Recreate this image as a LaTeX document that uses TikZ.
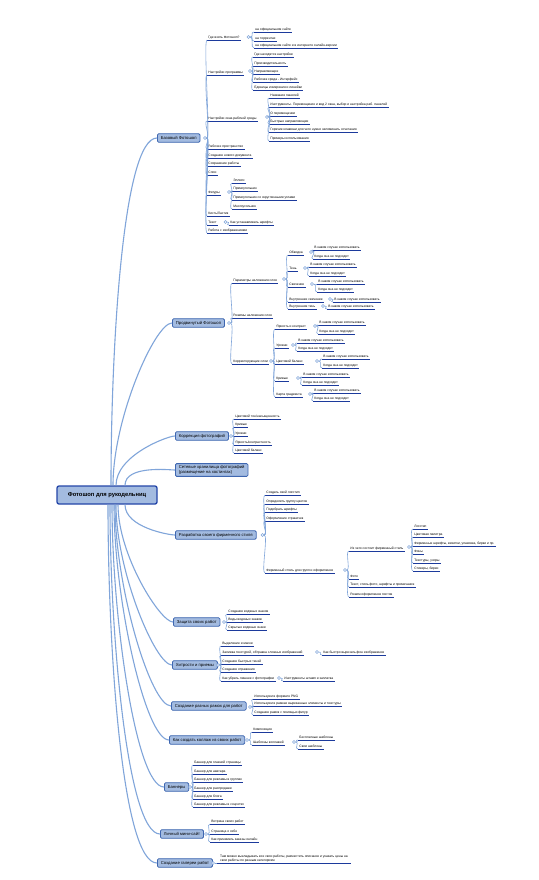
\documentclass[tikz,border=0pt]{standalone}
\usepackage{fontspec}
\setmainfont{Liberation Sans}
\definecolor{mmline}{RGB}{128,165,218}
\definecolor{mmunder}{RGB}{28,58,156}
\definecolor{mmfill}{RGB}{163,187,224}
\definecolor{mmedge}{RGB}{62,102,176}
\definecolor{mmrootedge}{RGB}{36,70,168}
\newcommand\mmleaf{\fontsize{3.3}{3.9}\selectfont}
\newcommand\mmtopic{\fontsize{4.2}{5.2}\selectfont}
\newcommand\mmroot{\fontsize{5.8}{7}\selectfont\bfseries}

\begin{document}
\begin{tikzpicture}[x=1pt,y=-1pt,
  underlined/.style={append after command={(\tikzlastnode.south west) edge[draw=mmunder,line width=0.9pt] (\tikzlastnode.south east)}},
  leaf/.style={underlined,anchor=south west,font=\mmleaf,inner xsep=1.2pt,inner ysep=0.8pt,text height=2.5pt,text depth=0.7pt},
  topicbox/.style={anchor=west,draw=mmedge,fill=mmfill,line width=0.8pt,rounded corners=1.3pt,font=\mmtopic,inner xsep=3.5pt,inner ysep=2.3pt},
  topic/.style={topicbox,text height=3.1pt,text depth=0.9pt},
  root/.style={draw=mmrootedge,fill=mmfill,line width=1.3pt,rounded corners=2pt,font=\mmroot,minimum width=100pt,minimum height=18pt},
  knob/.style={circle,draw=mmline,fill=white,line width=0.5pt,minimum size=3pt,inner sep=0pt},
  trunk/.style={draw=mmline,line width=1.1pt,in=180,in looseness=0.25},
  sub/.style={draw=mmline,line width=0.6pt,out=0,in=180,out distance=4pt,in distance=4pt}]
\fill[white] (0,0) rectangle (538,880);
\useasboundingbox (0,0) rectangle (538,880);

\node[root] (root) at (107,495) {Фотошоп для рукодельниц};

\node[topic] (b1) at (157,138) {Базовый Фотошоп};
\node[topic] (b2) at (172,323) {Продвинутый Фотошоп};
\node[topic] (b3) at (175,436) {Коррекция фотографий};
\node[topicbox,align=left,inner ysep=1.8pt] (b4) at (175,470) {Сетевые хранилища фотографий\\(размещение на хостингах)};
\node[topic] (b6) at (175,535) {Разработка своего фирменного стиля};
\node[topic] (b7) at (173,622) {Защита своих работ};
\node[topic] (b8) at (172,665) {Хитрости и приемы};
\node[topic] (b9) at (171,706) {Создание разных рамок для работ};
\node[topic] (b10) at (169,740) {Как создать коллаж из своих работ};
\node[topic] (b11) at (164,787) {Баннеры};
\node[topic] (b12) at (160,834) {Личный мини-сайт};
\node[topic] (b13) at (157,863) {Создание галереи работ};

\draw[trunk,out=90] ([xshift=4pt]root.north) to (b1.west);
\draw[trunk,out=90] ([xshift=6pt]root.north) to (b2.west);
\draw[trunk,out=90] ([xshift=9pt]root.north) to (b3.west);
\draw[trunk,out=90] ([xshift=18pt]root.north) to (b4.west);
\draw[trunk,out=-90] ([xshift=18pt]root.south) to (b6.west);
\draw[trunk,out=-90] ([xshift=11pt]root.south) to (b7.west);
\draw[trunk,out=-90] ([xshift=9pt]root.south) to (b8.west);
\draw[trunk,out=-90] ([xshift=8pt]root.south) to (b9.west);
\draw[trunk,out=-90] ([xshift=7pt]root.south) to (b10.west);
\draw[trunk,out=-90] ([xshift=5pt]root.south) to (b11.west);
\draw[trunk,out=-90] ([xshift=3pt]root.south) to (b12.west);
\draw[trunk,out=-90] ([xshift=1pt]root.south) to (b13.west);

% Базовый Фотошоп
\node[leaf] (a1) at (207,40) {Где взять Фотошоп?};
\node[leaf] (a1a) at (254,32) {на официальном сайте};
\node[leaf] (a1b) at (254,41) {на торрентах};
\node[leaf] (a1c) at (254,48) {на официальном сайте и в интернете онлайн-версии};
\node[leaf] (a2) at (207,75) {Настройки программы};
\node[leaf] (a2a) at (253,57) {Где находятся настройки};
\node[leaf] (a2b) at (253,66) {Производительность};
\node[leaf] (a2c) at (253,74) {Направляющие};
\node[leaf] (a2d) at (253,82) {Рабочая среда - Интерфейс};
\node[leaf] (a2e) at (253,90) {Единицы измерения и линейки};
\node[leaf] (a3) at (207,121) {Настройки окна рабочей среды};
\node[leaf] (a3a) at (269,98) {Названия панелей};
\node[leaf] (a3b) at (269,107) {Инструменты. Перемещение и вид 2 окна, выбор и настройка раб. панелей};
\node[leaf] (a3c) at (269,116) {О перемещении};
\node[leaf] (a3d) at (269,124) {Быстрые направляющие};
\node[leaf] (a3e) at (269,132) {Горячие клавиши для чего нужно запоминать сочетания};
\node[leaf] (a3f) at (269,141) {Примеры использования};
\node[leaf] (a4) at (207,149) {Рабочее пространство};
\node[leaf] (a5) at (207,158) {Создание нового документа};
\node[leaf] (a6) at (207,166) {Сохранение работы};
\node[leaf] (a7) at (207,175) {Слои};
\node[leaf] (a8) at (207,195) {Фигуры};
\node[leaf] (a8a) at (232,183) {Эллипс};
\node[leaf] (a8b) at (232,191) {Прямоугольник};
\node[leaf] (a8c) at (232,200) {Прямоугольник со скругленными углами};
\node[leaf] (a8d) at (232,209) {Многоугольник};
\node[leaf] (a9) at (207,216) {Кисть/Ластик};
\node[leaf] (a10) at (207,225) {Текст};
\node[leaf] (a10a) at (229,225) {Как устанавливать шрифты};
\node[leaf] (a11) at (207,233) {Работа с изображениями};

\node[knob] (b1k) at (205,138) {};
\node[knob] (a1k) at (248.5,37) {};
\node[knob] (a2k) at (250,71) {};
\node[knob] (a3k) at (267,117) {};
\node[knob] (a8k) at (229,192) {};
\node[knob] (a10k) at (225.5,222) {};
\foreach \c in {a1,a2,a3,a4,a5,a6,a7,a8,a9,a10,a11} \draw[sub] (b1k.east) to (\c.south west);
\foreach \c in {a1a,a1b,a1c} \draw[sub] (a1k.east) to (\c.south west);
\foreach \c in {a2a,a2b,a2c,a2d,a2e} \draw[sub] (a2k.east) to (\c.south west);
\foreach \c in {a3a,a3b,a3c,a3d,a3e,a3f} \draw[sub] (a3k.east) to (\c.south west);
\foreach \c in {a8a,a8b,a8c,a8d} \draw[sub] (a8k.east) to (\c.south west);
\draw[sub] (a10k.east) to (a10a.south west);

% Продвинутый Фотошоп
\node[leaf] (c1) at (232,283) {Параметры наложения слоя};
\node[leaf] (c1a) at (288,255) {Обводка};
\node[leaf] (c1a1) at (313,250) {В каком случае использовать};
\node[leaf] (c1a2) at (313,259) {Когда она не подходит};
\node[leaf] (c1b) at (288,271) {Тень};
\node[leaf] (c1b1) at (309,267) {В каком случае использовать};
\node[leaf] (c1b2) at (309,276) {Когда она не подходит};
\node[leaf] (c1c) at (288,287) {Свечение};
\node[leaf] (c1c1) at (317,284) {В каком случае использовать};
\node[leaf] (c1c2) at (317,292) {Когда она не подходит};
\node[leaf] (c1d) at (288,302) {Внутреннее свечение};
\node[leaf] (c1d1) at (333,302) {В каком случае использовать};
\node[leaf] (c1e) at (288,309) {Внутренняя тень};
\node[leaf] (c1e1) at (327,309) {В каком случае использовать};
\node[leaf] (c2) at (232,318) {Режимы наложения слоя};
\node[leaf] (c3) at (232,364) {Корректирующие слои};
\node[leaf] (c3a) at (275,329) {Яркость и контраст};
\node[leaf] (c3a1) at (318,325) {В каком случае использовать};
\node[leaf] (c3a2) at (318,334) {Когда она не подходит};
\node[leaf] (c3b) at (275,348) {Уровни};
\node[leaf] (c3b1) at (297,343) {В каком случае использовать};
\node[leaf] (c3b2) at (297,351) {Когда она не подходит};
\node[leaf] (c3c) at (275,364) {Цветовой баланс};
\node[leaf] (c3c1) at (322,359) {В каком случае использовать};
\node[leaf] (c3c2) at (322,368) {Когда она не подходит};
\node[leaf] (c3d) at (275,381) {Кривые};
\node[leaf] (c3d1) at (302,377) {В каком случае использовать};
\node[leaf] (c3d2) at (302,385) {Когда она не подходит};
\node[leaf] (c3e) at (275,397) {Карта градиента};
\node[leaf] (c3e1) at (313,393) {В каком случае использовать};
\node[leaf] (c3e2) at (313,401) {Когда она не подходит};

\node[knob] (b2k) at (229,323) {};
\node[knob] (c1k) at (284,279) {};
\node[knob] (c1ak) at (311,252) {};
\node[knob] (c1bk) at (305,268) {};
\node[knob] (c1ck) at (312,284) {};
\node[knob] (c1dk) at (330,299) {};
\node[knob] (c1ek) at (323,306) {};
\node[knob] (c3k) at (271,361) {};
\node[knob] (c3ak) at (315,326) {};
\node[knob] (c3bk) at (293,345) {};
\node[knob] (c3ck) at (317,361) {};
\node[knob] (c3dk) at (298,378) {};
\node[knob] (c3ek) at (310,394) {};
\foreach \c in {c1,c2,c3} \draw[sub] (b2k.east) to (\c.south west);
\foreach \c in {c1a,c1b,c1c,c1d,c1e} \draw[sub] (c1k.east) to (\c.south west);
\foreach \c in {c1a1,c1a2} \draw[sub] (c1ak.east) to (\c.south west);
\foreach \c in {c1b1,c1b2} \draw[sub] (c1bk.east) to (\c.south west);
\foreach \c in {c1c1,c1c2} \draw[sub] (c1ck.east) to (\c.south west);
\draw[sub] (c1dk.east) to (c1d1.south west);
\draw[sub] (c1ek.east) to (c1e1.south west);
\foreach \c in {c3a,c3b,c3c,c3d,c3e} \draw[sub] (c3k.east) to (\c.south west);
\foreach \c in {c3a1,c3a2} \draw[sub] (c3ak.east) to (\c.south west);
\foreach \c in {c3b1,c3b2} \draw[sub] (c3bk.east) to (\c.south west);
\foreach \c in {c3c1,c3c2} \draw[sub] (c3ck.east) to (\c.south west);
\foreach \c in {c3d1,c3d2} \draw[sub] (c3dk.east) to (\c.south west);
\foreach \c in {c3e1,c3e2} \draw[sub] (c3ek.east) to (\c.south west);

% Коррекция фотографий
\node[leaf] (d1) at (234,419) {Цветовой тон/насыщенность};
\node[leaf] (d2) at (234,427) {Кривые};
\node[leaf] (d3) at (234,436) {Уровни};
\node[leaf] (d4) at (234,445) {Яркость/контрастность};
\node[leaf] (d5) at (234,453) {Цветовой баланс};
\node[knob] (b3k) at (231,436) {};
\foreach \c in {d1,d2,d3,d4,d5} \draw[sub] (b3k.east) to (\c.south west);

% Фирменный стиль
\node[leaf] (e1) at (265,495) {Создать свой логотип};
\node[leaf] (e2) at (265,504) {Определить группу цветов};
\node[leaf] (e3) at (265,512) {Подобрать шрифты};
\node[leaf] (e4) at (265,521) {Оформление страничек};
\node[leaf] (e5) at (265,573) {Фирменный стиль для групп и оформления};
\node[leaf] (e5a) at (349,551) {Из чего состоит фирменный стиль};
\node[leaf] (e5a1) at (413,529) {Логотип};
\node[leaf] (e5a2) at (413,537) {Цветовая палитра};
\node[leaf] (e5a3) at (413,546) {Фирменные шрифты, визитки, упаковка, бирки и пр.};
\node[leaf] (e5a4) at (413,554) {Фоны};
\node[leaf] (e5a5) at (413,563) {Текстуры, узоры};
\node[leaf] (e5a6) at (413,571) {Стикеры, бирки};
\node[leaf] (e5b) at (349,579) {Фото};
\node[leaf] (e5c) at (349,587) {Текст, стиль фото, шрифты и примечания};
\node[leaf] (e5d) at (349,597) {Режим оформления постов};
\node[knob] (b6k) at (262.5,535) {};
\node[knob] (e5k) at (345,570) {};
\node[knob] (e5ak) at (409,547) {};
\foreach \c in {e1,e2,e3,e4,e5} \draw[sub] (b6k.east) to (\c.south west);
\foreach \c in {e5a,e5b,e5c,e5d} \draw[sub] (e5k.east) to (\c.south west);
\foreach \c in {e5a1,e5a2,e5a3,e5a4,e5a5,e5a6} \draw[sub] (e5ak.east) to (\c.south west);

% Защита своих работ
\node[leaf] (f1) at (227,614) {Создание водяных знаков};
\node[leaf] (f2) at (227,622) {Виды водяных знаков};
\node[leaf] (f3) at (227,630) {Скрытые водяные знаки};
\node[knob] (b7k) at (224,622) {};
\foreach \c in {f1,f2,f3} \draw[sub] (b7k.east) to (\c.south west);

% Хитрости и приемы
\node[leaf] (g1) at (221,646) {Выделение и маски};
\node[leaf] (g2) at (221,655) {Заливка текстурой, обтравка сложных изображений};
\node[leaf] (g2a) at (322,655) {Как быстро вырезать фон изображения};
\node[leaf] (g3) at (221,664) {Создание быстрых теней};
\node[leaf] (g4) at (221,672) {Создание отражения};
\node[leaf] (g5) at (221,681) {Как убрать лишнее с фотографии};
\node[leaf] (g5a) at (283,681) {Инструменты штамп и заплатка};
\node[knob] (b8k) at (218,665) {};
\node[knob] (g2k) at (317,652) {};
\node[knob] (g5k) at (279,678) {};
\foreach \c in {g1,g2,g3,g4,g5} \draw[sub] (b8k.east) to (\c.south west);
\draw[sub] (g2k.east) to (g2a.south west);
\draw[sub] (g5k.east) to (g5a.south west);

% Рамки
\node[leaf] (h1) at (253,699) {Используем в формате PNG};
\node[leaf] (h2) at (253,706) {Используем в рамках вырезанные элементы и текстуры};
\node[leaf] (h3) at (253,715) {Создание рамок с помощью фигур};
\node[knob] (b9k) at (250,707) {};
\foreach \c in {h1,h2,h3} \draw[sub] (b9k.east) to (\c.south west);

% Коллаж
\node[leaf] (i1) at (252,732) {Композиция};
\node[leaf] (i2) at (252,745) {Шаблоны коллажей};
\node[leaf] (i2a) at (298,740) {Бесплатные шаблоны};
\node[leaf] (i2b) at (298,749) {Свои шаблоны};
\node[knob] (b10k) at (247,740) {};
\node[knob] (i2k) at (294,742) {};
\foreach \c in {i1,i2} \draw[sub] (b10k.east) to (\c.south west);
\foreach \c in {i2a,i2b} \draw[sub] (i2k.east) to (\c.south west);

% Баннеры
\node[leaf] (j1) at (193,765) {Баннер для главной страницы};
\node[leaf] (j2) at (193,774) {Баннер для аватара};
\node[leaf] (j3) at (193,782) {Баннер для рекламы в группах};
\node[leaf] (j4) at (193,791) {Баннер для распродажи};
\node[leaf] (j5) at (193,799) {Баннер для блога};
\node[leaf] (j6) at (193,807) {Баннер для рекламы в соцсетях};
\node[knob] (b11k) at (190,787) {};
\foreach \c in {j1,j2,j3,j4,j5,j6} \draw[sub] (b11k.east) to (\c.south west);

% Личный сайт
\node[leaf] (k1) at (210,824) {Витрина своих работ};
\node[leaf] (k2) at (210,834) {Страница о себе};
\node[leaf] (k3) at (210,842) {Как принимать заказы онлайн};
\node[knob] (b12k) at (206,834) {};
\foreach \c in {k1,k2,k3} \draw[sub] (b12k.east) to (\c.south west);

% Галерея
\node[underlined,anchor=south west,font=\mmleaf,inner xsep=3pt,inner ysep=0.8pt,align=left] (p1) at (217,863)
  {Там можно выкладывать все свои работы, разместить описание и указать цены на\\свои работы по разным категориям};
\node[knob] (b13k) at (213,863) {};
\draw[sub] (b13k.east) to (p1.south west);
\end{tikzpicture}
\end{document}
